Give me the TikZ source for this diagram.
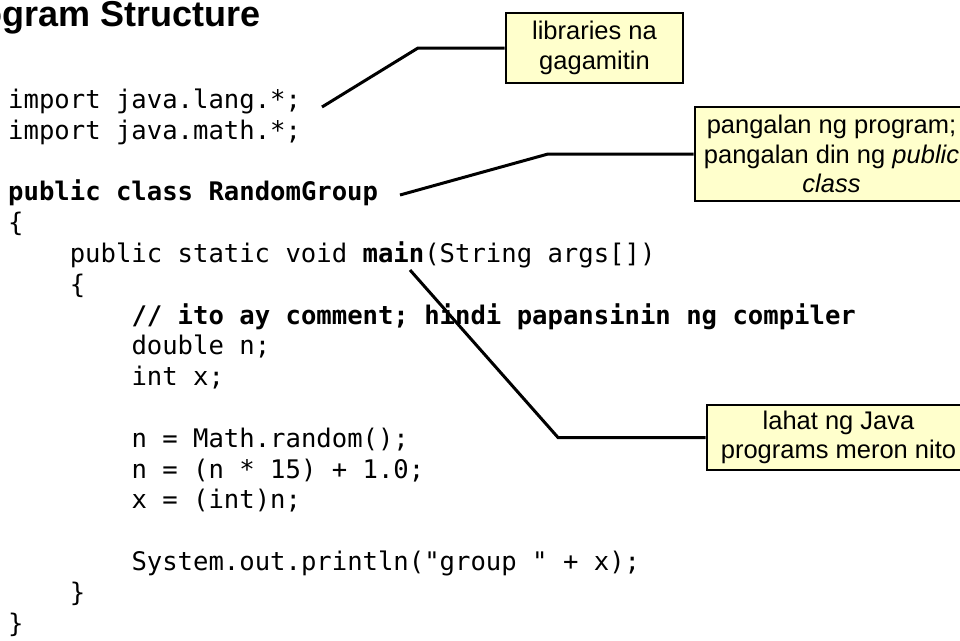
\documentclass[tikz,border=0pt]{standalone}
\usepackage{fontspec}
\setmainfont{Liberation Sans}
\setsansfont{Liberation Sans}
\setmonofont{DejaVu Sans Mono}
\definecolor{notefill}{HTML}{FFFFCC}
\begin{document}
\begin{tikzpicture}[x=1pt,y=-1pt,
  code/.style={anchor=base west,inner sep=0pt,font=\ttfamily\fontsize{25.6}{30.8}\selectfont},
  bcode/.style={code,font=\ttfamily\bfseries\fontsize{25.6}{30.8}\selectfont},
  note/.style={draw=black,line width=2.6pt,fill=notefill,inner sep=0pt,align=center,
    font=\sffamily\fontsize{25.5}{29.5}\selectfont},
  pointer/.style={line width=3pt,line join=miter}]
\useasboundingbox (0,0) rectangle (960,640);
\clip (0,0) rectangle (960,640);

% heading (runs off the left edge of the page)
\node[anchor=base east,inner sep=0pt,font=\sffamily\bfseries\fontsize{36}{42}\selectfont]
  (title) at (261,26) {Program Structure};

% source listing
\node[code]  (l0)  at (8,108.5)      {import java.lang.*;};
\node[code]  (l1)  at (8,139.3)      {import java.math.*;};
\node[bcode] (l3)  at (8,200.9)      {public class RandomGroup};
\node[code]  (l4)  at (8,231.7)      {\{};
\node[code]  (l5)  at (69.6,262.5)   {public static void \textbf{main}(String args[])};
\node[code]  (l6)  at (69.6,293.3)   {\{};
\node[bcode] (l7)  at (131.3,324.1)  {// ito ay comment; hindi papansinin ng compiler};
\node[code]  (l8)  at (131.3,354.9)  {double n;};
\node[code]  (l9)  at (131.3,385.7)  {int x;};
\node[code]  (l11) at (131.3,447.3)  {n = Math.random();};
\node[code]  (l12) at (131.3,478.1)  {n = (n * 15) + 1.0;};
\node[code]  (l13) at (131.3,508.9)  {x = (int)n;};
\node[code]  (l15) at (131.3,570.5)  {System.out.println("group " + x);};
\node[code]  (l16) at (69.6,601.3)   {\}};
\node[code]  (l17) at (8,632.1)      {\}};

% callout notes
\node[note,minimum width=177pt,minimum height=70pt] (lib) at (594.5,48)
  {libraries na\\gagamitin};
\node[note,minimum width=273pt,minimum height=94pt] (pg) at (831.5,154)
  {pangalan ng program;\\pangalan din ng \textit{public}\\\textit{class}};
\node[note,minimum width=263pt,minimum height=65pt] (lahat) at (838.5,437.5)
  {lahat ng Java\\programs meron nito};

% pointer ends and bends
\coordinate (impend)   at (322,107);
\coordinate (libbend)  at (418,48);
\coordinate (clsend)   at (400,195);
\coordinate (pgbend)   at (548,154);
\coordinate (mainend)  at (410,270);
\coordinate (mainbend) at (558,437.5);

\draw[pointer] (impend) -- (libbend) -- (lib.west);
\draw[pointer] (clsend) -- (pgbend) -- (pg.west);
\draw[pointer] (mainend) -- (mainbend) -- (lahat.west);
\end{tikzpicture}
\end{document}
